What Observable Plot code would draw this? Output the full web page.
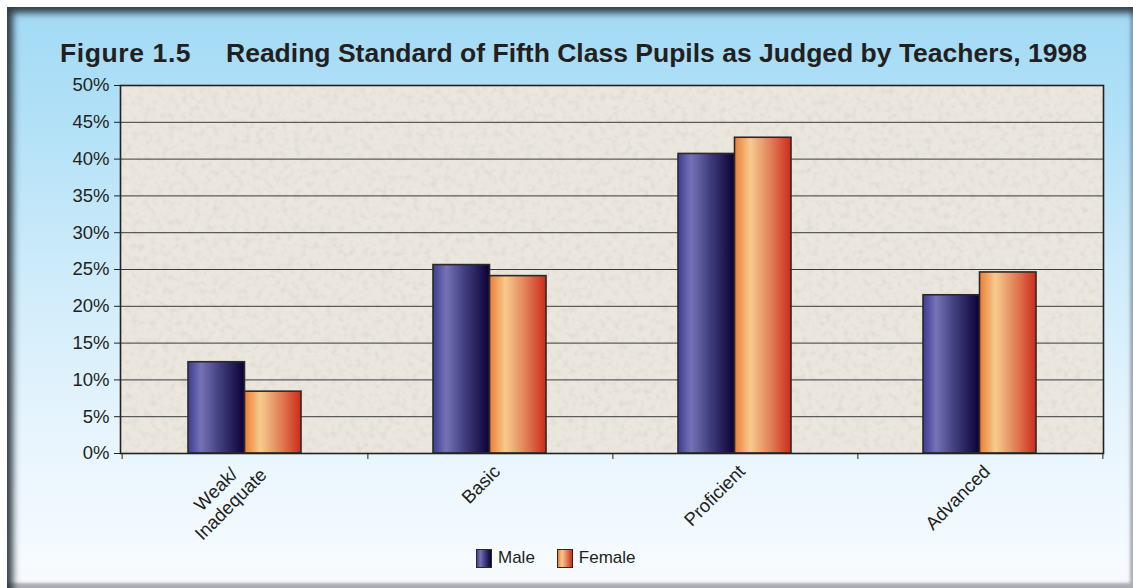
<!DOCTYPE html>
<html>
<head>
<meta charset="utf-8">
<script src="https://cdn.jsdelivr.net/npm/d3@7"></script>
<script src="https://cdn.jsdelivr.net/npm/@observablehq/plot@0.6"></script>
<style>
  html, body { margin: 0; padding: 0; background: #ffffff; }
  #wrap { position: relative; width: 1133px; height: 588px; overflow: hidden; font-family: "Liberation Sans", Arial, sans-serif; }
  #panel {
    position: absolute; left: 7px; top: 7px; right: 0; bottom: 0;
    background: linear-gradient(to bottom, #a3daf5 0%, #b0e0f7 18%, #cdebfa 45%, #e6f4fd 72%, #f6fbff 96%, #f7f9fb 100%);
    box-shadow: inset 8px 8px 7px -2px rgba(35,45,55,0.9), inset -4px -6px 3px -1px rgba(110,110,120,0.55);
  }
  #title { position: absolute; left: 60px; top: 38px; font-weight: bold; font-size: 26.5px; color: #231f20; white-space: nowrap; }
  #title .fig { display: inline-block; width: 166px; letter-spacing: 0.6px; }
  #chart { position: absolute; left: 0; top: 0; }
  #legend { position: absolute; left: 476px; top: 548px; display: flex; align-items: center; font-size: 17px; color: #231f20; }
  #legend .sw { display: inline-block; width: 14px; height: 17px; border: 1.5px solid #2a2a2a; margin-right: 6px; }
  #legend .item { display: flex; align-items: center; margin-right: 22px; }
</style>
</head>
<body>
<div id="wrap">
  <div id="panel"></div>
  <div id="title"><span class="fig">Figure 1.5</span>Reading Standard of Fifth Class Pupils as Judged by Teachers, 1998</div>
  <div id="chart"></div>
  <div id="legend"></div>
</div>
<script>
const categories = ["Weak/\nInadequate", "Basic", "Proficient", "Advanced"];
const seriesNames = ["Male", "Female"];
const male = [12.4, 25.6, 40.7, 21.5];
const female = [8.4, 24.1, 42.9, 24.6];
const yTicks = [0, 5, 10, 15, 20, 25, 30, 35, 40, 45, 50];

const W = 1133, H = 588;
const mL = 120, mR = 30, mT = 85, mB = 135;
const step = (W - mL - mR) / categories.length;
const padInner = 0.54;
const bw = step * (1 - padInner);
const fontFam = "'Liberation Sans', Arial, sans-serif";
const xFont = 18.5, yFont = 18.5, lineH = 21;

const maleData = categories.map((c, i) => ({category: c, value: male[i]}));
const femaleData = categories.map((c, i) => ({category: c, value: female[i]}));

// rotated, centre-aligned multi-line category labels
const ctx = document.createElement("canvas").getContext("2d");
ctx.font = `${xFont}px ${fontFam}`;
const c45 = Math.SQRT1_2;
const baseDx = 7, baseDy = 15;
const labelMarks = [];
categories.forEach(cat => {
  const lines = cat.split("\n");
  const widths = lines.map(l => ctx.measureText(l).width);
  const blockW = Math.max(...widths);
  lines.forEach((line, j) => {
    const perp = (j - (lines.length - 1) / 2) * lineH;
    const back = (blockW - widths[j]) / 2;
    const extra = lines.length > 1 ? 6 : 0;
    const dx = baseDx + perp * c45 - back * c45 + extra * c45;
    const dy = baseDy + perp * c45 + back * c45 - extra * c45;
    labelMarks.push(Plot.text([{category: cat, line}], {
      x: "category", y: () => 0, text: "line", rotate: -45, textAnchor: "end", lineAnchor: "middle",
      dx, dy, fontSize: xFont, fill: "#231f20"
    }));
  });
});

const svg = Plot.plot({
  width: W, height: H,
  marginLeft: mL, marginRight: mR, marginTop: mT, marginBottom: mB,
  style: { background: "transparent", fontFamily: fontFam, fontSize: yFont + "px", color: "#231f20" },
  x: { domain: categories, paddingInner: padInner, paddingOuter: padInner / 2, label: null },
  y: { domain: [0, 50], label: null },
  marks: [
    Plot.frame({ fill: "#ebe7df" }),
    Plot.ruleY(yTicks.slice(1, -1), { stroke: "#3a3a3a", strokeWidth: 1 }),
    Plot.barY(maleData, { x: "category", y: "value", insetRight: bw / 2, fill: "url(#gMale)", stroke: "#2a2a2a", strokeWidth: 1.6 }),
    Plot.barY(femaleData, { x: "category", y: "value", insetLeft: bw / 2, fill: "url(#gFemale)", stroke: "#2a2a2a", strokeWidth: 1.6 }),
    Plot.frame({ stroke: "#222", strokeWidth: 1.6 }),
    Plot.axisY({ ticks: yTicks, tickFormat: d => d + "%", tickSize: 6, tickPadding: 5, fontSize: yFont, stroke: "#222" }),
    Plot.axisX({ ticks: categories, tickSize: 6, tickFormat: () => "", dx: step / 2, stroke: "#222" }),
    Plot.axisX({ ticks: [categories[0]], tickSize: 6, tickFormat: () => "", dx: -step / 2, stroke: "#222" }),
    ...labelMarks
  ]
});

const ns = "http://www.w3.org/2000/svg";
const defs = document.createElementNS(ns, "defs");
defs.innerHTML = `
  <linearGradient id="gMale" x1="0" x2="1" y1="0" y2="0">
    <stop offset="0" stop-color="#3d3d92"/>
    <stop offset="0.23" stop-color="#7473b6"/>
    <stop offset="0.55" stop-color="#434080"/>
    <stop offset="1" stop-color="#0b0035"/>
  </linearGradient>
  <linearGradient id="gFemale" x1="0" x2="1" y1="0" y2="0">
    <stop offset="0" stop-color="#ec7c35"/>
    <stop offset="0.28" stop-color="#f7cb8e"/>
    <stop offset="0.62" stop-color="#e2845a"/>
    <stop offset="1" stop-color="#cd2b1b"/>
  </linearGradient>
  <filter id="tex" x="0" y="0" width="1" height="1" filterUnits="objectBoundingBox">
    <feTurbulence type="fractalNoise" baseFrequency="0.16" numOctaves="2" seed="7" result="n"/>
    <feColorMatrix in="n" type="matrix" values="0 0 0 0 0.62  0 0 0 0 0.58  0 0 0 0 0.52  1.0 0 0 0 -0.45" result="c"/>
    <feComposite in="c" in2="SourceGraphic" operator="in" result="ci"/>
    <feMerge><feMergeNode in="SourceGraphic"/><feMergeNode in="ci"/></feMerge>
  </filter>`;
svg.insertBefore(defs, svg.firstChild);
const fr = svg.querySelector('[aria-label="frame"]');
if (fr) fr.setAttribute("filter", "url(#tex)");
document.getElementById("chart").appendChild(svg);

const legend = document.getElementById("legend");
const grads = {
  Male: "linear-gradient(to right, #3d3d92 0%, #7473b6 23%, #434080 55%, #0b0035 100%)",
  Female: "linear-gradient(to right, #ec7c35 0%, #f7cb8e 28%, #e2845a 62%, #cd2b1b 100%)"
};
seriesNames.forEach(name => {
  const item = document.createElement("div");
  item.className = "item";
  const sw = document.createElement("span");
  sw.className = "sw";
  sw.style.background = grads[name];
  const t = document.createElement("span");
  t.textContent = name;
  item.appendChild(sw); item.appendChild(t);
  legend.appendChild(item);
});
</script>
</body>
</html>
